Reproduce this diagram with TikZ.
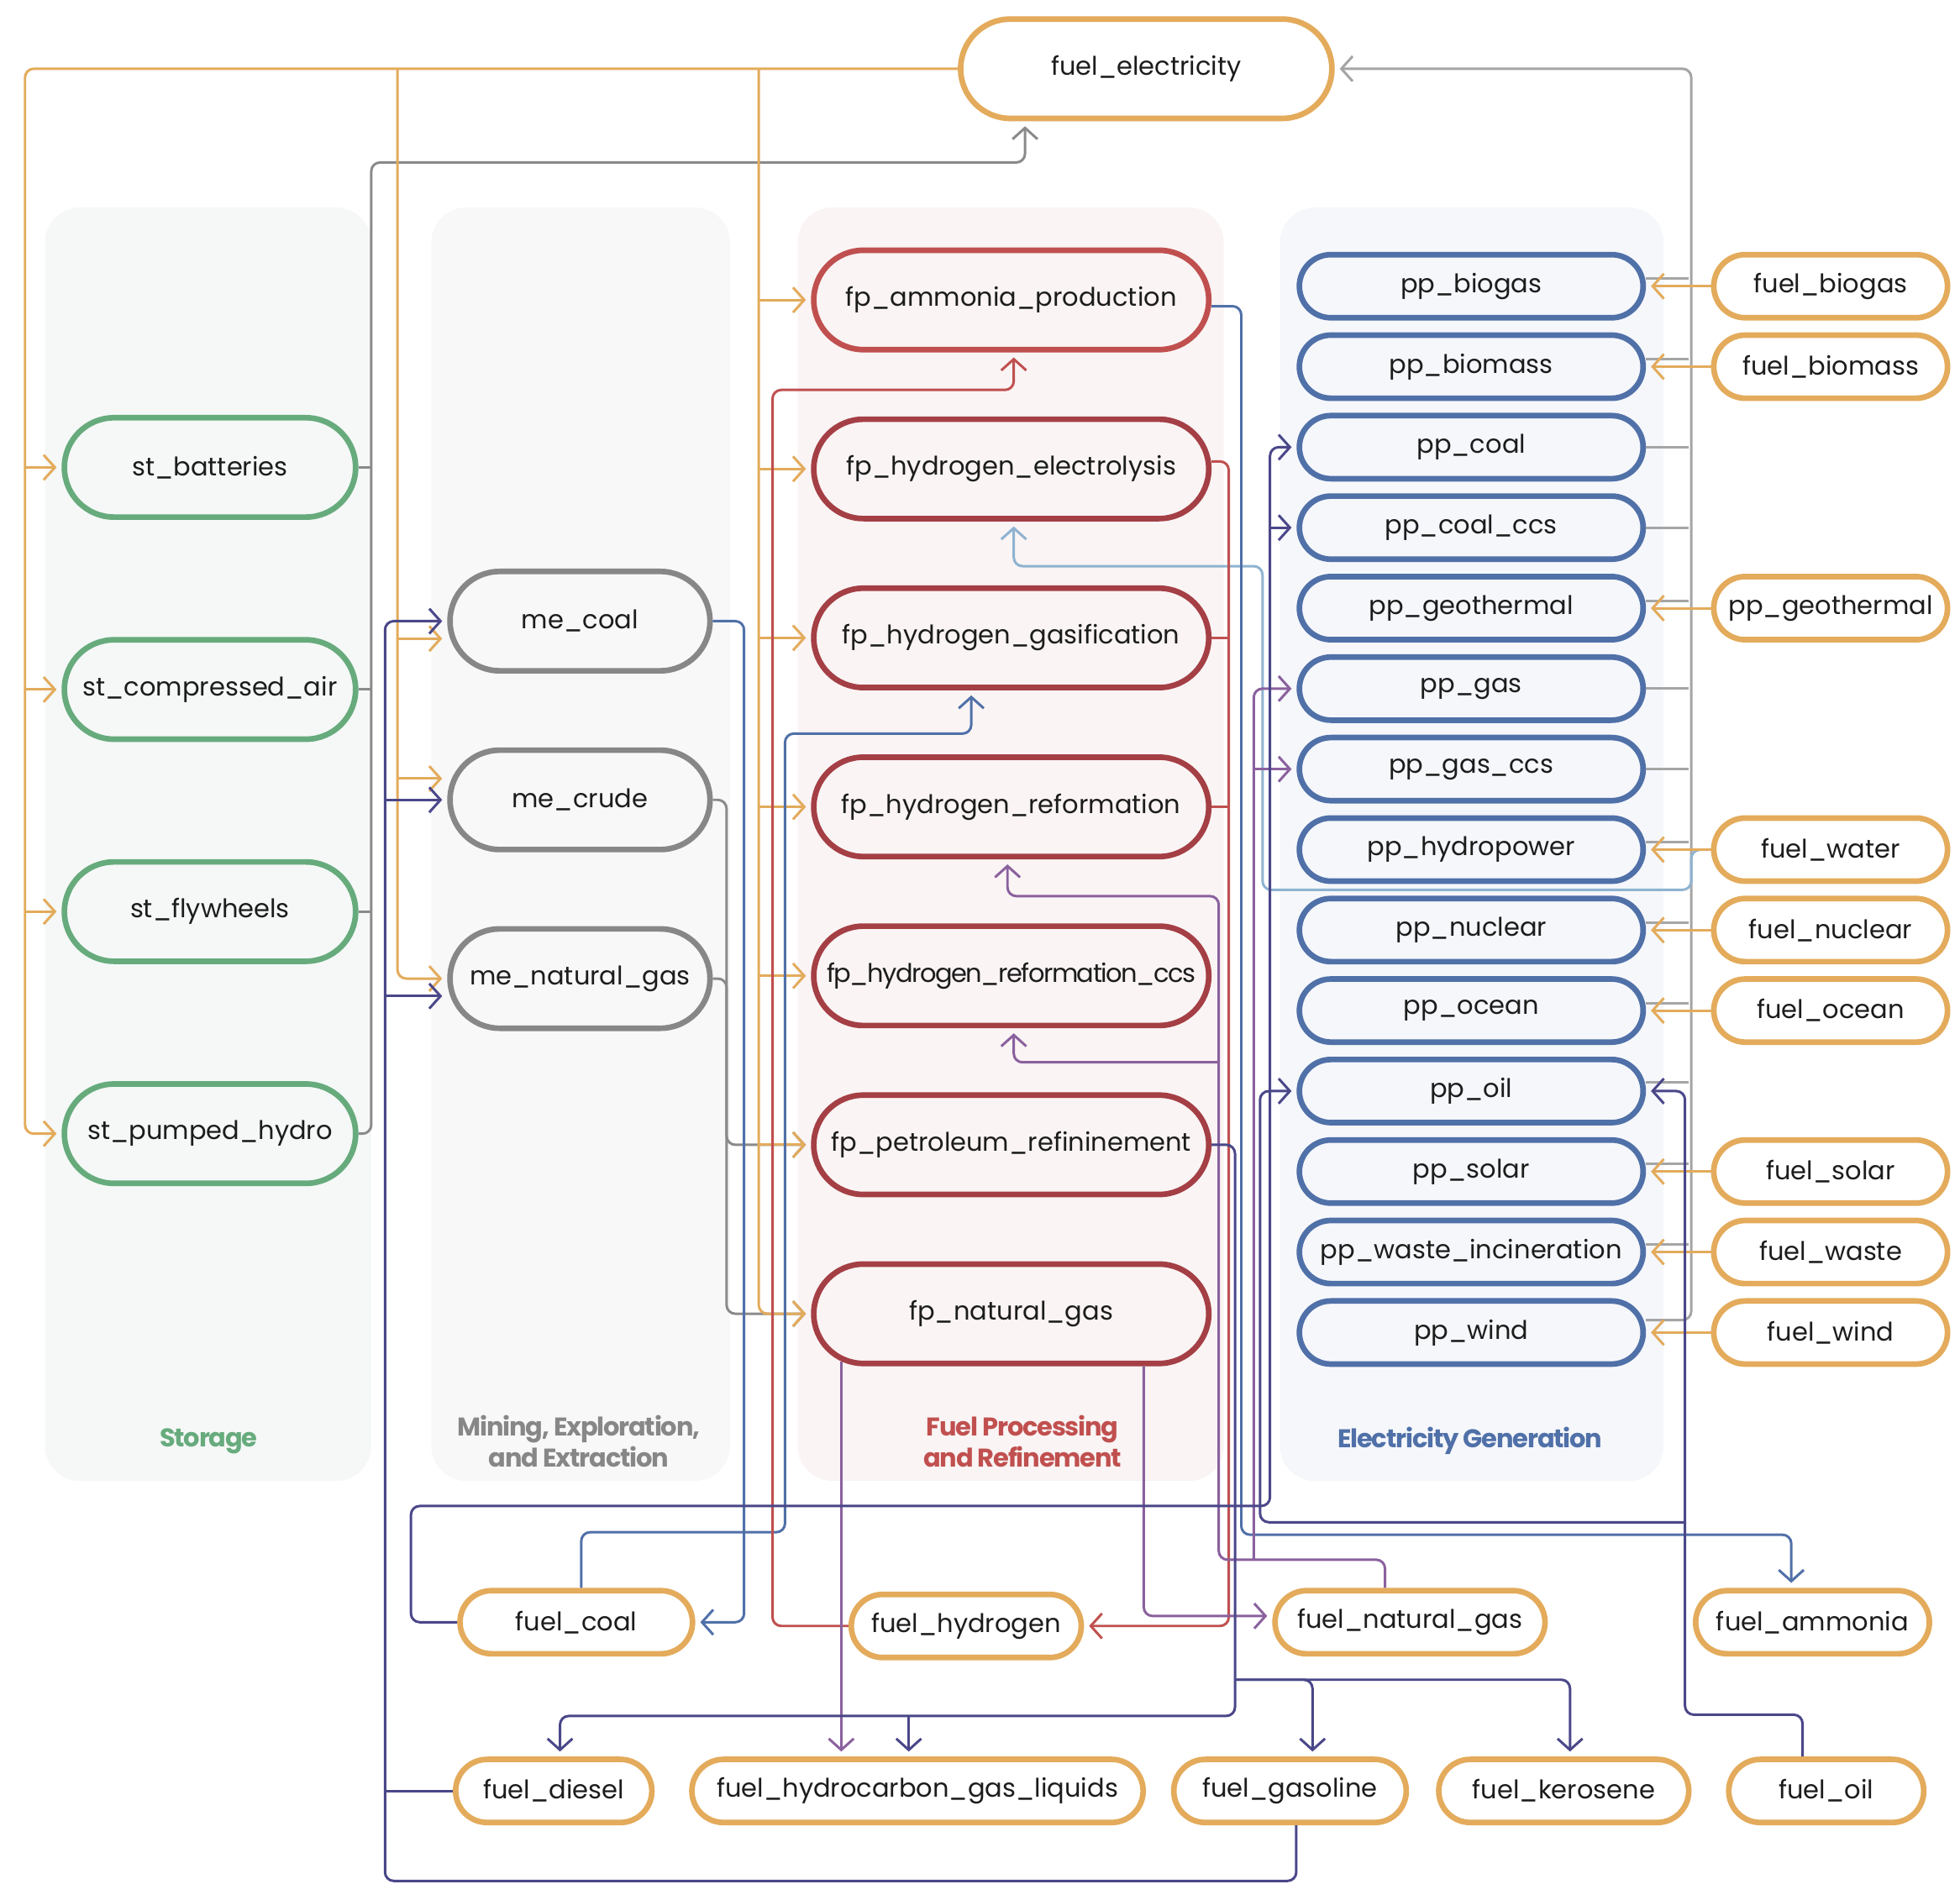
\documentclass[tikz,border=0pt]{standalone}
\usepackage{fontspec}
\setmainfont{Poppins}
\newfontfamily\headfont[LetterSpace=-4]{Poppins}
\usetikzlibrary{arrows.meta, positioning, shapes.misc}
\definecolor{FuelOrange}{HTML}{E3AB5B}
\definecolor{StGreen}   {HTML}{67AB7D}
\definecolor{MeGrey}    {HTML}{878787}
\definecolor{FpRed}     {HTML}{A43F45}
\definecolor{FpLight}   {HTML}{C0504F}
\definecolor{PpBlue}    {HTML}{5070A8}
\definecolor{LineGrey}  {HTML}{8A8A8A}
\definecolor{PaleGrey}  {HTML}{A5A5A5}
\definecolor{SkyBlue}   {HTML}{8FB3D1}
\definecolor{Indigo}    {HTML}{4A4789}
\definecolor{Plum}      {HTML}{8A619E}
\definecolor{StBg}      {HTML}{F5F8F7}
\definecolor{MeBg}      {HTML}{F8F8F8}
\definecolor{FpBg}      {HTML}{FAF4F4}
\definecolor{PpBg}      {HTML}{F5F7FB}
\definecolor{TextBlack} {HTML}{1C1C1C}
\newcommand{\nodefont}{\fontsize{20.5}{24}\selectfont}

\begin{document}
\begin{tikzpicture}[
		x=1pt, y=-1pt,
		base/.style={rounded rectangle, line width=4.5pt, minimum height=79.5pt,
			inner sep=2pt, font=\nodefont, text=TextBlack},
		stnode/.style={base, draw=StGreen, fill=StBg, minimum width=237pt},
		menode/.style={base, draw=MeGrey, fill=MeBg, minimum width=212pt},
		fpnode/.style={base, draw=FpRed, fill=FpBg, minimum width=320pt},
		ppnode/.style={base, draw=PpBlue, fill=PpBg, minimum width=279pt, minimum height=50.5pt},
		fuelnode/.style={base, draw=FuelOrange, fill=white, minimum height=50.5pt},
		group/.style={rounded corners=28pt},
		head/.style={font=\headfont\bfseries\fontsize{20.5}{25}\selectfont, align=center},
		wire/.style={line width=2pt, rounded corners=7pt},
		arr/.style={wire, -{Straight Barb[length=9pt, width=20pt]}, shorten >=4pt},
		oarr/.style={arr, FuelOrange}, oline/.style={wire, FuelOrange},
		garr/.style={arr, LineGrey},   gline/.style={wire, LineGrey},
		lgarr/.style={arr, PaleGrey},  lgline/.style={wire, PaleGrey},
		barr/.style={arr, PpBlue},
		rarr/.style={arr, FpLight},    rline/.style={wire, FpLight},
		lbarr/.style={arr, SkyBlue},
		iarr/.style={arr, Indigo},     iline/.style={wire, Indigo},
		parr/.style={arr, Plum},       pline/.style={wire, Plum},
		]
		\useasboundingbox (0,0) rectangle (1568,1520);
		% ── Column backgrounds ───────────────────────────────────────────────────────
		\fill[group, StBg] (36,166) rectangle (297,1185);
		\fill[group, MeBg] (345,166) rectangle (584,1185);
		\fill[group, FpBg] (638,166) rectangle (979,1185);
		\fill[group, PpBg] (1024,166) rectangle (1331,1185);
		\node[head, text=StGreen]  (hst) at (167,1153) {Storage};
		\node[head, text=MeGrey]   (hme) at (463,1153) {Mining, Exploration,\\and Extraction};
		\node[head, text=FpLight]  (hfp) at (818,1153) {Fuel Processing\\and Refinement};
		\node[head, text=PpBlue]   (hpp) at (1176,1153) {Electricity Generation};
		% ── Electricity ──────────────────────────────────────────────────────────────
		\node[fuelnode, minimum width=301pt, minimum height=79.5pt] (elec) at (917,55) {fuel\_electricity};
		% ── Storage ──────────────────────────────────────────────────────────────────
		\node[stnode] (stbat) at (168,374) {st\_batteries};
		\node[stnode, below=93.7pt of stbat] (stair)  {st\_compressed\_air};
		\node[stnode, below=93.7pt of stair] (stfly)  {st\_flywheels};
		\node[stnode, below=93.7pt of stfly] (stpump) {st\_pumped\_hydro};
		% ── Mining ───────────────────────────────────────────────────────────────────
		\node[menode] (mecoal) at (464,497) {me\_coal};
		\node[menode, below=59pt of mecoal] (mecrude) {me\_crude};
		\node[menode, below=59pt of mecrude] (menat)  {me\_natural\_gas};
		% ── Fuel processing ──────────────────────────────────────────────────────────
		\node[fpnode, draw=FpLight] (fpamm) at (809,240) {fp\_ammonia\_production};
		\node[fpnode, below=51.2pt of fpamm]   (fpelec)  {fp\_hydrogen\_electrolysis};
		\node[fpnode, below=51.2pt of fpelec]  (fpgas)   {fp\_hydrogen\_gasification};
		\node[fpnode, below=51.2pt of fpgas]   (fpref)   {fp\_hydrogen\_reformation};
		\node[fpnode, below=51.2pt of fpref]   (fpccs)   {\addfontfeature{LetterSpace=-5}fp\_hydrogen\_reformation\_ccs};
		\node[fpnode, below=51.2pt of fpccs]   (fppetro) {fp\_petroleum\_refininement};
		\node[fpnode, below=51.2pt of fppetro] (fpnat)   {fp\_natural\_gas};
		% ── Power plants ─────────────────────────────────────────────────────────────
		\node[ppnode] (ppbiogas) at (1177,229) {pp\_biogas};
		\node[ppnode, below=9.4pt of ppbiogas] (ppbiomass) {pp\_biomass};
		\node[ppnode, below=9.4pt of ppbiomass](ppcoal)    {pp\_coal};
		\node[ppnode, below=9.4pt of ppcoal]   (ppcccs)    {pp\_coal\_ccs};
		\node[ppnode, below=9.4pt of ppcccs]   (ppgeo)     {pp\_geothermal};
		\node[ppnode, below=9.4pt of ppgeo]    (ppgas)     {pp\_gas};
		\node[ppnode, below=9.4pt of ppgas]    (ppgccs)    {pp\_gas\_ccs};
		\node[ppnode, below=9.4pt of ppgccs]   (pphydro)   {pp\_hydropower};
		\node[ppnode, below=9.4pt of pphydro]  (ppnuc)     {pp\_nuclear};
		\node[ppnode, below=9.4pt of ppnuc]    (ppocean)   {pp\_ocean};
		\node[ppnode, below=9.4pt of ppocean]  (ppoil)     {pp\_oil};
		\node[ppnode, below=9.4pt of ppoil]    (ppsolar)   {pp\_solar};
		\node[ppnode, below=9.4pt of ppsolar]  (ppwaste)   {pp\_waste\_incineration};
		\node[ppnode, below=9.4pt of ppwaste]  (ppwind)    {pp\_wind};
		% ── Fuels feeding the plants ─────────────────────────────────────────────────
		\node[fuelnode, minimum width=191pt, right=52pt of ppbiogas]  (fbiogas)  {fuel\_biogas};
		\node[fuelnode, minimum width=191pt, right=52pt of ppbiomass] (fbiomass) {fuel\_biomass};
		\node[fuelnode, minimum width=191pt, right=52pt of ppgeo]     (fgeo)     {pp\_geothermal};
		\node[fuelnode, minimum width=191pt, right=52pt of pphydro]   (fwater)   {fuel\_water};
		\node[fuelnode, minimum width=191pt, right=52pt of ppnuc]     (fnuc)     {fuel\_nuclear};
		\node[fuelnode, minimum width=191pt, right=52pt of ppocean]   (focean)   {fuel\_ocean};
		\node[fuelnode, minimum width=191pt, right=52pt of ppsolar]   (fsolar)   {fuel\_solar};
		\node[fuelnode, minimum width=191pt, right=52pt of ppwaste]   (fwaste)   {fuel\_waste};
		\node[fuelnode, minimum width=191pt, right=52pt of ppwind]    (fwind)    {fuel\_wind};
		% ── Fuels at the bottom ──────────────────────────────────────────────────────
		\node[fuelnode, minimum width=190pt] (fcoal)  at (461,1298)  {fuel\_coal};
		\node[fuelnode, minimum width=188pt] (fhyd)   at (773,1301)  {fuel\_hydrogen};
		\node[fuelnode, minimum width=220pt] (fnat)   at (1128,1298) {fuel\_natural\_gas};
		\node[fuelnode, minimum width=191pt] (famm)   at (1450,1298) {fuel\_ammonia};
		\node[fuelnode, minimum width=161pt] (fdiesel) at (443,1433) {fuel\_diesel};
		\node[fuelnode, minimum width=365pt] (fhcgl)  at (734,1433)  {fuel\_hydrocarbon\_gas\_liquids};
		\node[fuelnode, minimum width=190pt] (fgasol) at (1032,1433) {fuel\_gasoline};
		\node[fuelnode, minimum width=204pt] (fkero)  at (1251,1433) {fuel\_kerosene};
		\node[fuelnode, minimum width=160pt] (foil)   at (1461,1433) {fuel\_oil};
		% ── Bus points ───────────────────────────────────────────────────────────────
		\coordinate (stbus)  at (20,55);
		\coordinate (mebus)  at (318,55);
		\coordinate (fpbus)  at (607,55);
		\coordinate (stout)  at (297,130);
		\coordinate (ppout)  at (1353,55);
		\coordinate (cbus)   at (1016,1205);
		\coordinate (obus)   at (1008,1218);
		\coordinate (gbus)   at (1003,1248);
		\coordinate (rbus)   at (975,1248);
		\coordinate (hbus)   at (983,1301);
		\coordinate (dbus)   at (308,1505);
		\coordinate (pbus)   at (988,1373);
		\coordinate (kbus)   at (988,1344);
		\coordinate (oilbus) at (1348,1372);
		\coordinate (refturn) at (806,717);
		\coordinate (ccsturn) at (811,850);
		\coordinate (elecin) at ([xshift=-97pt]elec.south);
		\coordinate (mcoalin) at ([yshift=-14pt]mecoal.west);
		\coordinate (mcrudein) at ([yshift=17pt]mecrude.west);
		\coordinate (mnatin) at ([yshift=-14pt]menat.west);
		\coordinate (ppwo) at ([yshift=10pt]ppwind.east);
		\coordinate (hcglin) at ([xshift=-7pt]fhcgl.north);
		\coordinate (ngl) at ([xshift=-136pt,yshift=4pt]fpnat.south);
		% ── Grey: storage and plants back to electricity ─────────────────────────────
		\draw[garr] (stpump.east) -- (stpump.east -| stout) -- (stout) -- (stout -| elecin) -- (elecin);
		\foreach \n in {stbat, stair, stfly}
		\draw[gline] (\n.east) -- (\n.east -| stout);
		\draw[lgarr] (ppwo) -- (ppwo -| ppout) -- (ppout) -- (elec.east);
		\foreach \n/\s in {ppbiogas/6, ppbiomass/6, ppcoal/0, ppcccs/0, ppgeo/6, ppgas/0,
			ppgccs/0, pphydro/6, ppnuc/6, ppocean/6, ppoil/7, ppsolar/6, ppwaste/6}
		\draw[lgline] ([yshift=\s pt]\n.east) -- ++(34,0);
		\draw[garr] (mecrude.east) -- ++(11,0) |- (fppetro.west);
		\draw[garr] (menat.east) -- ++(11,0) |- (fpnat.west);
		% ── Sky blue: water to electrolysis ──────────────────────────────────────────
		\draw[lbarr] (fwater.west) -- (1353,680) -- (1353,712) -- (1010,712) -- (1010,453)
		-- (811,453) -- ([xshift=2pt]fpelec.south);
		% ── Orange: electricity out, fuels into plants ───────────────────────────────
		\draw[oarr] (elec.west) -- (stbus) -- (stbus |- stpump) -- (stpump.west);
		\foreach \n in {stbat, stair, stfly}
		\draw[oarr] (stbus |- \n) -- (\n.west);
		\draw[oarr] (mebus) -- (mebus |- menat) -- (menat.west);
		\draw[oarr] (mebus |- mcoalin) -- (mcoalin);
		\draw[oarr] (mebus |- mcrudein) -- (mcrudein);
		\draw[oarr] (fpbus) -- (fpbus |- fpnat) -- (fpnat.west);
		\foreach \n in {fpamm, fpelec, fpgas, fpref, fpccs, fppetro}
		\draw[oarr] (fpbus |- \n) -- (\n.west);
		\foreach \f/\p in {fbiogas/ppbiogas, fbiomass/ppbiomass, fgeo/ppgeo, fwater/pphydro,
			fnuc/ppnuc, focean/ppocean, fsolar/ppsolar, fwaste/ppwaste, fwind/ppwind}
		\draw[oarr] (\f.west) -- (\p.east);
		% ── Blue: coal and ammonia ───────────────────────────────────────────────────
		\draw[barr] (mecoal.east) -- ++(25,0) |- (fcoal.east);
		\draw[barr] ([xshift=4pt]fcoal.north) -- (465,1226) -- (628,1226) -- (628,587)
		-- (777,587) -- ([xshift=-32pt]fpgas.south);
		\draw[barr] ([yshift=-5pt]fpamm.east) -- (993,245) -- (993,1228) -- (1433,1228)
		-- ([xshift=-17pt]famm.north);
		% ── Red: hydrogen ────────────────────────────────────────────────────────────
		\draw[rarr] ([yshift=6pt]fpelec.east) -| (hbus) -- (fhyd.east);
		\draw[rline] (fpgas.east) -- (fpgas.east -| hbus);
		\draw[rline] (fpref.east) -- (fpref.east -| hbus);
		\draw[rarr] (fhyd.west) -- (618,1301) -- (618,312) -- (811,312) -- ([xshift=2pt]fpamm.south);
		% ── Purple: natural gas ──────────────────────────────────────────────────────
		\draw[parr] (ngl) -- (ngl |- fhcgl.north);
		\draw[parr] ([xshift=106pt]fpnat.south) |- ([yshift=5pt]fnat.west);
		\draw[parr] ([xshift=-20pt]fnat.north) |- (rbus) |- (refturn) -- (refturn |- fpref.south);
		\draw[parr] (rbus |- ccsturn) -- (ccsturn) -- (ccsturn |- fpccs.south);
		\draw[parr] (gbus) |- (ppgas.west);
		\draw[parr] (ppgccs.west -| gbus) -- (ppgccs.west);
		% ── Indigo: coal, oil and petroleum products ─────────────────────────────────
		\draw[iarr] (fcoal.west) -- ++(-37,0) |- (cbus) -- (cbus |- ppcoal) -- (ppcoal.west);
		\draw[iarr] (ppcccs.west -| cbus) -- (ppcccs.west);
		\draw[iarr] ([xshift=5pt]fgasol.south) |- (dbus) |- (mecoal.west);
		\draw[iarr] (mecrude.west -| dbus) -- (mecrude.west);
		\draw[iarr] (mnatin -| dbus) -- (mnatin);
		\draw[iline] (fdiesel.west) -- (fdiesel.west -| dbus);
		\draw[iarr] (fppetro.east) -| (pbus) -| ([xshift=5pt]fdiesel.north);
		\draw[iarr] (hcglin |- pbus) -- (hcglin);
		\draw[iarr] (kbus) -| ([xshift=18pt]fgasol.north);
		\draw[iarr] (kbus) -| ([xshift=5pt]fkero.north);
		\draw[iarr] ([xshift=-19pt]foil.north) |- (oilbus) -- (oilbus |- ppoil) -- (ppoil.east);
		\draw[iarr] (oilbus |- obus) -- (obus) -- (obus |- ppoil) -- (ppoil.west);
	\end{tikzpicture}
\end{document}
